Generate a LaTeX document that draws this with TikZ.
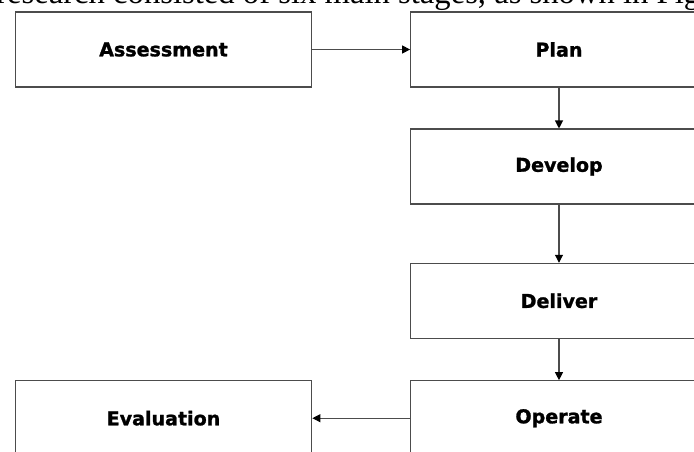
\documentclass[tikz,border=0pt]{standalone}
\usepackage{fontspec}
\usepackage{tikz}
\usetikzlibrary{arrows.meta}
\newfontfamily\stagefont{DejaVu Sans}[BoldFeatures={FakeBold=1.3}]
\newfontfamily\bodyfont{Liberation Serif}

\tikzset{
  stagebox/.style={draw=black!70, line width=0.8pt, fill=white, minimum width=222.5pt, minimum height=56.25pt, inner sep=0pt, font=\stagefont\bfseries\fontsize{14.3}{16}\selectfont},
  flow/.style={draw=black!70, line width=0.8pt, -{Triangle[length=6pt,width=6pt,color=black]}}
}

\begin{document}
\begin{tikzpicture}[x=0.75pt,y=0.75pt,yscale=-1,xscale=1]
\useasboundingbox (0,0) rectangle (694,451);
\clip (0,0) rectangle (694,451);

% Text Node (line of the page above the figure)
\draw (-4,3.5) node [anchor=base west][inner sep=0pt]  {\bodyfont\fontsize{24.5}{28}\selectfont research consisted of six main stages, as shown in Fig};

% Stages
\draw (163.5,49.5) node [stagebox] (assess) {Assessment};
\draw (559,49.5) node [stagebox] (plan) {Plan};
\draw (559,166.5) node [stagebox] (develop) {Develop};
\draw (559,300.8) node [stagebox] (deliver) {Deliver};
\draw (559,418.2) node [stagebox] (operate) {Operate};
\draw (163.5,418.2) node [stagebox] (evaluation) {Evaluation};

% Arrows
\draw [flow] (assess) -- (plan);
\draw [flow] (plan) -- (develop);
\draw [flow] (develop) -- (deliver);
\draw [flow] (deliver) -- (operate);
\draw [flow] (operate) -- (evaluation);

\end{tikzpicture}
\end{document}
